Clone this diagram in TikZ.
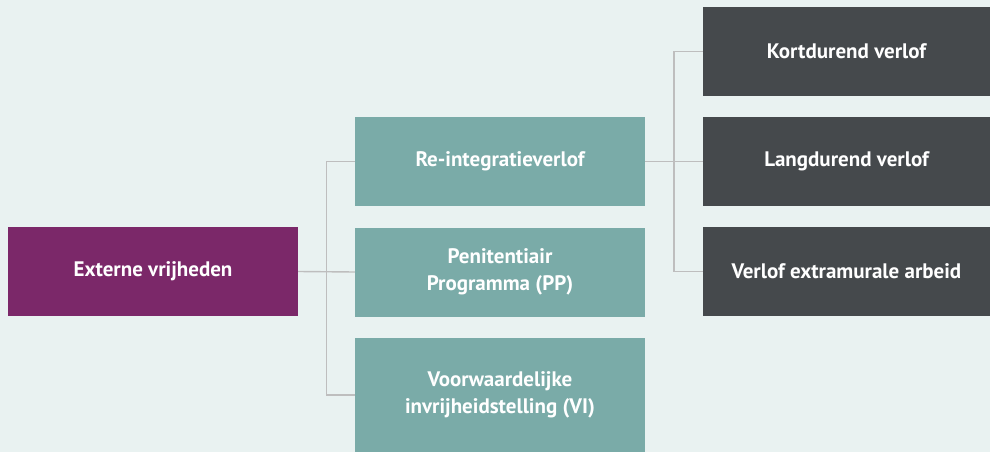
\documentclass[tikz,border=0pt]{standalone}
\usepackage{fontspec}
\setmainfont{PT Sans}
\definecolor{bgc}{HTML}{E9F2F1}
\definecolor{purp}{HTML}{7B2869}
\definecolor{teal}{HTML}{7AABA8}
\definecolor{darkc}{HTML}{45494C}
\definecolor{linec}{HTML}{BEBEBE}
\tikzset{
  boxnode/.style={rectangle, draw=none, text=white, font=\bfseries\fontsize{21}{27}\selectfont, align=center, inner sep=0pt},
  conn/.style={draw=linec, line width=1.4pt}
}
\begin{document}
\begin{tikzpicture}[x=1pt,y=-1pt]
\fill[bgc] (0,0) rectangle (990,452);
\useasboundingbox (0,0) rectangle (990,452);
\node[boxnode, fill=purp, minimum width=290pt, minimum height=89pt] (ext) at (153,271.5) {Externe vrijheden};
\node[boxnode, fill=teal, minimum width=290pt, minimum height=89pt] (rei) at (500,161.5) {Re-integratieverlof};
\node[boxnode, fill=teal, minimum width=290pt, minimum height=89pt] (pp) at (500,272) {Penitentiair\\Programma (PP)};
\node[boxnode, fill=teal, minimum width=290pt, minimum height=114pt] (vi) at (500,395) {Voorwaardelijke\\invrijheidstelling (VI)};
\node[boxnode, fill=darkc, minimum width=287pt, minimum height=89pt] (kort) at (846.5,51.5) {Kortdurend verlof};
\node[boxnode, fill=darkc, minimum width=287pt, minimum height=89pt] (lang) at (846.5,161.5) {Langdurend verlof};
\node[boxnode, fill=darkc, minimum width=287pt, minimum height=89pt] (extra) at (846.5,271.5) {Verlof extramurale arbeid};
\coordinate (j1) at (326.5,272);
\coordinate (j2) at (674,161.5);
\draw[conn] (ext.east) -- (pp.west);
\draw[conn] (rei.west) -| (j1) |- (vi.west);
\draw[conn] (rei.east) -- (lang.west);
\draw[conn] (kort.west) -| (j2) |- (extra.west);
\end{tikzpicture}
\end{document}
